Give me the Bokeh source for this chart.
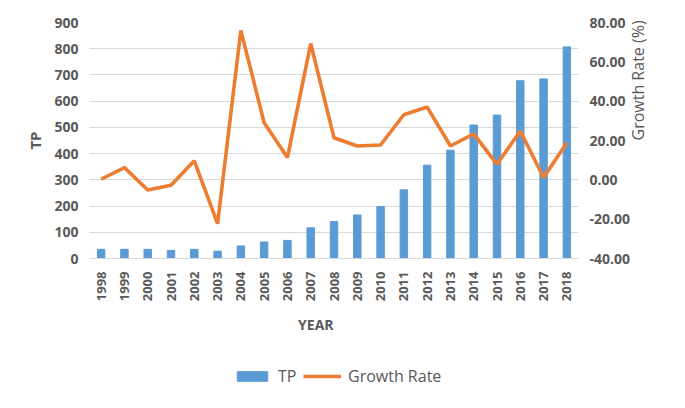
from bokeh.plotting import figure
from bokeh.layouts import column
from bokeh.models import (ColumnDataSource, FactorRange, Range1d, LinearAxis,
                          NumeralTickFormatter, FixedTicker, Legend, LegendItem)
from bokeh.embed import file_html
from bokeh.resources import INLINE
import math

years = [str(y) for y in range(1998, 2019)]
tp = [35, 35, 35, 31, 35, 28, 48, 63, 69, 117, 141, 166, 198, 262, 356,
      413, 509, 547, 678, 685, 807]
growth = [0.3, 6.2, -5.2, -2.7, 9.7, -22.3, 76.0, 29.0, 11.3, 69.3, 21.4,
          17.2, 17.7, 33.1, 37.0, 17.2, 23.4, 7.9, 24.8, 1.2, 18.9]
tp_ticks = [0, 100, 200, 300, 400, 500, 600, 700, 800, 900]
gr_ticks = [-40, -20, 0, 20, 40, 60, 80]

BLUE = "#5B9BD5"
ORANGE = "#ED7D31"
TXT = "#595959"
GRID = "#d9d9d9"
FONT = "Open Sans"


def plain(ax):
    ax.axis_line_color = None
    ax.major_tick_line_color = None
    ax.minor_tick_line_color = None
    ax.major_tick_out = 0
    ax.major_tick_in = 0
    ax.minor_tick_out = 0
    ax.minor_tick_in = 0


src = ColumnDataSource(dict(year=years, tp=tp, growth=growth))

p = figure(width=669, height=337, x_range=FactorRange(*years, range_padding=0),
           y_range=Range1d(0, 900), output_backend="svg", toolbar_location=None,
           min_border_left=89, min_border_right=91, min_border_top=22,
           min_border_bottom=77)
p.extra_y_ranges = {"gr": Range1d(-40, 80)}

bars = p.vbar(x="year", top="tp", width=0.32, source=src, color=BLUE)
line = p.line(x="year", y="growth", source=src, y_range_name="gr",
              line_color=ORANGE, line_width=3.6)

p.outline_line_color = None
p.xgrid.grid_line_color = None
p.ygrid.grid_line_color = GRID
p.ygrid.ticker = FixedTicker(ticks=tp_ticks)

# left axis
ya = p.yaxis[0]
plain(ya)
ya.ticker = FixedTicker(ticks=tp_ticks)
ya.major_label_text_font = FONT
ya.major_label_text_font_style = "bold"
ya.major_label_text_font_size = "14px"
ya.major_label_text_color = TXT
ya.axis_label = "TP"
ya.axis_label_text_font = FONT
ya.axis_label_text_font_style = "bold"
ya.axis_label_text_font_size = "15px"
ya.axis_label_text_color = TXT
ya.major_label_standoff = 11
ya.axis_label_standoff = 6

# right axis (tick labels)
ra = LinearAxis(y_range_name="gr", ticker=FixedTicker(ticks=gr_ticks),
                formatter=NumeralTickFormatter(format="0.00"))
plain(ra)
ra.major_label_text_font = FONT
ra.major_label_text_font_style = "bold"
ra.major_label_text_font_size = "14px"
ra.major_label_text_color = TXT
ra.major_label_standoff = 11
p.add_layout(ra, "right")

# right axis title (reads upward)
rl = LinearAxis(y_range_name="gr", ticker=FixedTicker(ticks=[]))
plain(rl)
rl.major_label_standoff = 0
rl.axis_label = "Growth Rate  (%)"
rl.axis_label_text_font = FONT
rl.axis_label_text_font_style = "normal"
rl.axis_label_text_font_size = "16px"
rl.axis_label_text_color = TXT
rl.axis_label_standoff = 4
rl.axis_label_orientation = math.pi / 2
p.add_layout(rl, "right")

# bottom axis
xa = p.xaxis[0]
plain(xa)
xa.axis_line_color = GRID
xa.major_label_orientation = math.pi / 2
xa.major_label_text_font = FONT
xa.major_label_text_font_style = "bold"
xa.major_label_text_font_size = "13px"
xa.major_label_text_color = TXT
xa.major_label_standoff = 13
xa.axis_label = "YEAR" + "\u00a0" * 10
xa.axis_label_text_font = FONT
xa.axis_label_text_font_style = "bold"
xa.axis_label_text_font_size = "14px"
xa.axis_label_text_color = TXT
xa.axis_label_standoff = 11

# legend strip below the chart; its renderers use a factor that matches no year,
# so nothing is drawn there except the legend itself
lg = figure(width=669, height=55, output_backend="svg", toolbar_location=None,
            x_axis_type=None, y_axis_type=None,
            min_border_left=89, min_border_right=91, min_border_top=0,
            min_border_bottom=0,
            x_range=FactorRange("legend"), y_range=Range1d(-100, 900))
lg.outline_line_color = None
lg.xgrid.grid_line_color = None
lg.ygrid.grid_line_color = None
lb = lg.vbar(x="year", top="tp", width=0.32, source=src, color=BLUE)
ll = lg.line(x="year", y="growth", source=src, line_color=ORANGE, line_width=3.6)
legend = Legend(items=[LegendItem(label="TP", renderers=[lb]),
                       LegendItem(label="Growth Rate", renderers=[ll])],
                orientation="horizontal", location=(144, 5),
                glyph_width=38, glyph_height=12, label_standoff=7, spacing=5,
                padding=0, margin=0, border_line_color=None,
                background_fill_alpha=0,
                label_text_font=FONT, label_text_font_size="16px",
                label_text_color=TXT)
lg.add_layout(legend, "center")

layout = column(p, lg, spacing=0)
open("out.html", "w").write(file_html(layout, INLINE))
